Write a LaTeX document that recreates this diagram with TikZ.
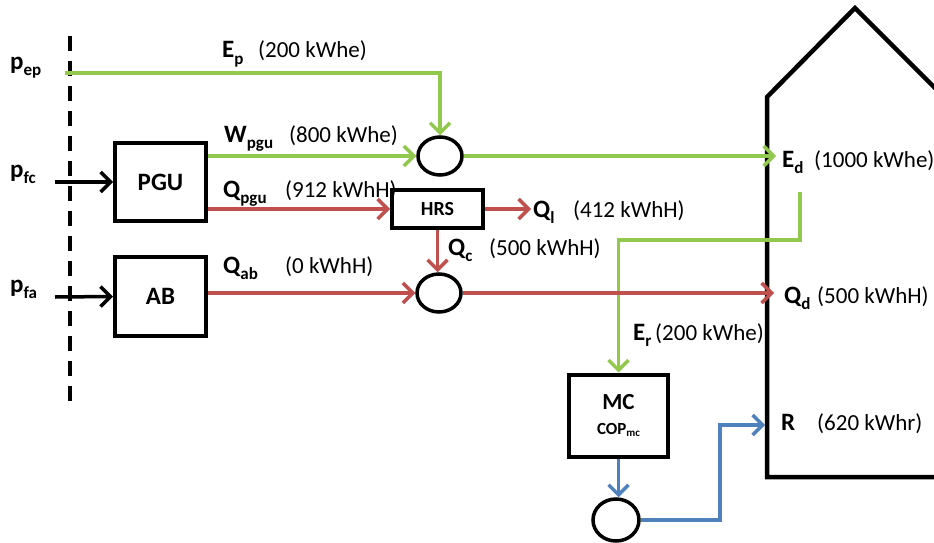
\documentclass[tikz,border=0pt]{standalone}
\usepackage{fontspec}
\setmainfont{Carlito}
\usepackage{tikz}
\usetikzlibrary{positioning, arrows.meta, calc, shapes.geometric}
\usepackage{xcolor}
\definecolor{flujoVerde}{HTML}{92C84E}
\definecolor{flujoRojo}{HTML}{C0504D}
\definecolor{flujoAzul}{HTML}{4F81BD}
\newcommand{\flujo}[2]{{\fontsize{25}{28}\selectfont\bfseries #1}\raisebox{-6pt}{\fontsize{17}{17}\selectfont\bfseries #2}}

\begin{document}
\begin{tikzpicture}[x=1pt, y=-1pt, font=\fontsize{23}{27}\selectfont,
    caja/.style={draw, line width=4pt, inner sep=0pt, font=\fontsize{25}{28}\selectfont\bfseries},
    mezcla/.style={draw, ellipse, line width=3.5pt, minimum width=44pt, minimum height=38pt, inner sep=0pt},
    flecha/.style={line width=3.5pt, -{Straight Barb[length=10pt, width=20pt]}},
    etiqueta/.style={anchor=base west, inner sep=0pt}]
  \useasboundingbox (0,0) rectangle (934,543);

  % Frontera (linea discontinua)
  \draw[line width=4.5pt, dash pattern=on 15pt off 10pt] (70,36) -- (70,405);

  % Equipos
  \node[caja, minimum width=91pt, minimum height=78pt] (pgu) at (160.5,182) {PGU};
  \node[caja, minimum width=91pt, minimum height=79pt] (ab) at (160.5,296.5) {AB};
  \node[caja, minimum width=91pt, minimum height=38pt, font=\fontsize{20}{22}\selectfont\bfseries] (hrs) at (437.5,209) {HRS};
  \node[caja, minimum width=99pt, minimum height=82pt, align=center, font=\fontsize{23}{26}\selectfont\bfseries] (mc) at (618.5,415.5)
    {MC\\[-1pt]{\fontsize{17}{19}\selectfont COP\raisebox{-2pt}{\fontsize{11}{11}\selectfont mc}}};
  \node[mezcla] (mixE) at (440,156) {};
  \node[mezcla] (mixQ) at (439,293) {};
  \node[mezcla, minimum width=46pt, minimum height=42pt] (mixR) at (616,520) {};

  % Vivienda
  \draw[line width=4.5pt, line join=miter] (940,93) -- (855,8) -- (767,97) -- (767,477) -- (940,477);

  % Extremos libres
  \coordinate (pep) at (65,73);
  \coordinate (pfc) at (55,182);
  \coordinate (pfa) at (55,297);
  \coordinate (ql) at (531,209);
  \coordinate (ed) at (776,156);
  \coordinate (qd) at (774,293);
  \coordinate (erIni) at (800,192);
  \coordinate (erCodo) at (800,240);
  \coordinate (rIn) at (765,425);

  % Entradas de combustible
  \draw[flecha] (pfc) -- (pgu.west);
  \draw[flecha] (pfa) -- (ab.west);

  % Electricidad
  \draw[flecha, flujoVerde] (pep) -| (mixE.north);
  \draw[flecha, flujoVerde] (pgu.east |- mixE.west) -- (mixE.west);
  \draw[flecha, flujoVerde] (mixE.east) -- (ed);
  \draw[flecha, flujoVerde] (erIni) -- (erCodo) -| (mc.north);

  % Calor
  \draw[flecha, flujoRojo] (pgu.east |- hrs.west) -- (hrs.west);
  \draw[flecha, flujoRojo] (hrs.east) -- (ql);
  \draw[flecha, flujoRojo] (hrs.south) -- (hrs.south |- mixQ.north);
  \draw[flecha, flujoRojo] (ab.east |- mixQ.west) -- (mixQ.west);
  \draw[flecha, flujoRojo] (mixQ.east) -- (qd);

  % Refrigeracion
  \draw[flecha, flujoAzul] (mc.south) -- (mc.south |- mixR.north);
  \draw[flecha, flujoAzul] (mixR.east) -| ($(rIn)+(-45,0)$) -- (rIn);

  % Nombres de los flujos
  \foreach \nombre/\pos/\letra/\sub in {%
      nPep/{10,70}/p/ep, nPfc/{10,177}/p/fc, nPfa/{10,292}/p/fa,
      nEp/{222,58}/E/p, nWpgu/{224,142}/W/pgu, nQpgu/{223,197}/Q/pgu,
      nQl/{533,217}/Q/l, nQc/{448,255}/Q/c, nQab/{223,273}/Q/ab,
      nEd/{782,167}/E/d, nQd/{784,303}/Q/d, nEr/{633,340}/E/r, nR/{781,430}/R/{}%
    } {
      \node[etiqueta] (\nombre) at (\pos) {\flujo{\letra}{\sub}};
    }

  % Valores
  \foreach \nombre/\pos/\val in {%
      vEp/{258,58}/{200 kWhe}, vWpgu/{289,142}/{800 kWhe}, vQpgu/{285,197}/{912 kWhH},
      vQl/{573,217}/{412 kWhH}, vQc/{489,255}/{500 kWhH}, vQab/{285,273}/{0 kWhH},
      vEd/{814,167}/{1000 kWhe}, vQd/{817,303}/{500 kWhH}, vEr/{655,340}/{200 kWhe},
      vR/{817,430}/{620 kWhr}%
    } {
      \node[etiqueta] (\nombre) at (\pos) {(\val)};
    }
\end{tikzpicture}
\end{document}
